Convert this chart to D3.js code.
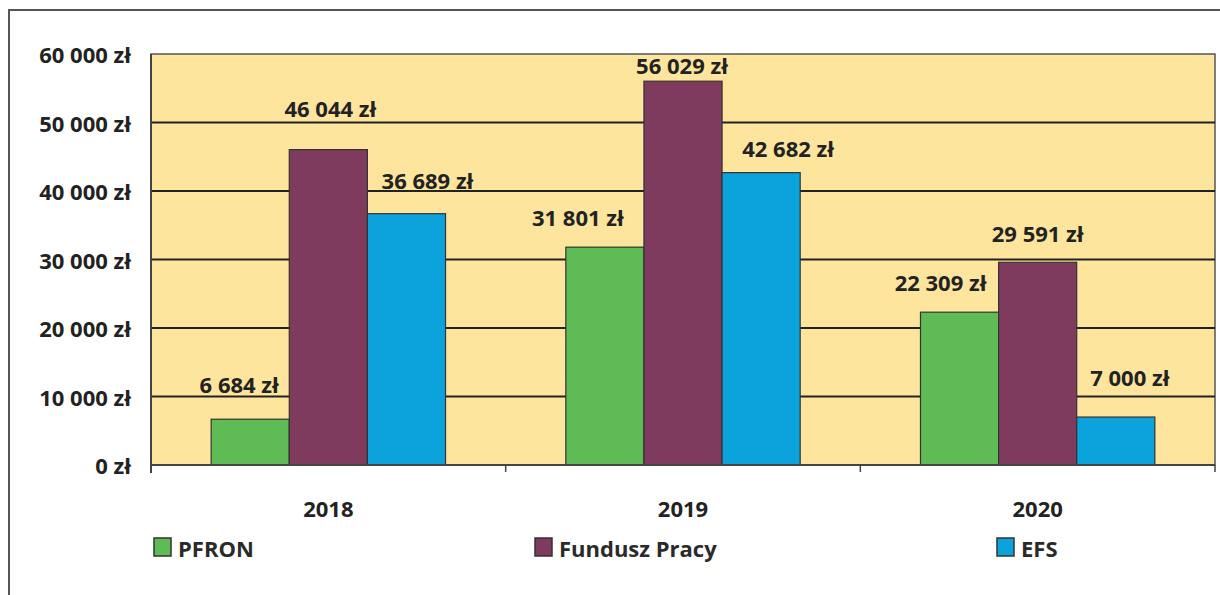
<!DOCTYPE html>
<html>
<head>
<meta charset="utf-8">
<script src="https://cdn.jsdelivr.net/npm/d3@7"></script>
<style>
    body{margin:0;background:#fff;}
    svg text{font-family:"Open Sans",sans-serif;font-weight:700;}
</style>
</head>
<body>
<script>
// data
const years = ['2018', '2019', '2020'];
const series = ['PFRON', 'Fundusz Pracy', 'EFS'];
const pfron = [6684, 31801, 22309];
const funduszPracy = [46044, 56029, 29591];
const efs = [36689, 42682, 7000];
const yTicks = [0, 10000, 20000, 30000, 40000, 50000, 60000];

// layout tweaks: label nudges [dx, dy] like in the original chart
const labelNudge = [
    [[-11,-35],[2,-42],[21,-34]],
    [[-27,-30],[-1,-16],[27,-25]],
    [[-19,-30],[0,-29],[14,-40]]
];

const colors = {'PFRON':'#5fbb55', 'Fundusz Pracy':'#7e3b5d', 'EFS':'#0ca2dc'};
const width = 1220, height = 595;
const plot = {left:151, right:1215, top:54, bottom:465};
const fontSize = 22;

const values = {'PFRON':pfron, 'Fundusz Pracy':funduszPracy, 'EFS':efs};
const fmt = v => d3.format(',')(v).replace(/,/g, ' ') + ' zł';

const svg = d3.select('body').append('svg')
    .attr('width', width).attr('height', height);

// outer frame
svg.append('rect')
    .attr('x', 9).attr('y', 10)
    .attr('width', 1240).attr('height', 620)
    .attr('fill', 'none').attr('stroke', '#555').attr('stroke-width', 2);

let x0 = d3.scaleBand().domain(years).range([plot.left, plot.right]);
let x1 = d3.scaleBand().domain(series).range([0, x0.bandwidth()]).paddingOuter(0.77);
let y = d3.scaleLinear().domain([0, 60000]).range([plot.bottom, plot.top]);

// plot background
svg.append('rect')
    .attr('x', plot.left).attr('y', plot.top)
    .attr('width', plot.right - plot.left).attr('height', plot.bottom - plot.top)
    .attr('fill', '#fee59e').attr('stroke', '#555').attr('stroke-width', 1.5);

// gridlines
svg.append('g').selectAll('line')
    .data(yTicks.filter(t => t > 0 && t < 60000))
    .join('line')
    .attr('x1', plot.left).attr('x2', plot.right)
    .attr('y1', d => y(d)).attr('y2', d => y(d))
    .attr('stroke', '#222').attr('stroke-width', 2);

// y labels
svg.append('g').selectAll('text')
    .data(yTicks)
    .join('text')
    .attr('x', 131).attr('y', d => y(d))
    .attr('text-anchor', 'end').attr('dominant-baseline', 'central')
    .attr('font-size', fontSize).attr('fill', '#222')
    .text(fmt);

// bars
const groups = svg.append('g').selectAll('g')
    .data(years.map((yr, i) => ({yr, i})))
    .join('g')
    .attr('transform', d => `translate(${x0(d.yr)},0)`);

groups.selectAll('rect')
    .data(d => series.map((s, j) => ({s, j, i:d.i, v:values[s][d.i]})))
    .join('rect')
    .attr('x', d => x1(d.s)).attr('width', x1.bandwidth())
    .attr('y', d => y(d.v)).attr('height', d => y(0) - y(d.v))
    .attr('fill', d => colors[d.s])
    .attr('stroke', '#333').attr('stroke-width', 1.2);

groups.selectAll('text')
    .data(d => series.map((s, j) => ({s, j, i:d.i, v:values[s][d.i]})))
    .join('text')
    .attr('x', d => x1(d.s) + x1.bandwidth()/2 + labelNudge[d.i][d.j][0])
    .attr('y', d => y(d.v) + labelNudge[d.i][d.j][1])
    .attr('text-anchor', 'middle').attr('dominant-baseline', 'central')
    .attr('font-size', fontSize).attr('fill', '#222')
    .text(d => fmt(d.v));

// x axis line + ticks
svg.append('line')
    .attr('x1', plot.left).attr('x2', plot.right)
    .attr('y1', plot.bottom).attr('y2', plot.bottom)
    .attr('stroke', '#444').attr('stroke-width', 2);
svg.append('line')
    .attr('x1', plot.left).attr('x2', plot.left)
    .attr('y1', plot.top).attr('y2', plot.bottom + 8)
    .attr('stroke', '#444').attr('stroke-width', 2);
svg.append('g').selectAll('line')
    .data(years.map(yr => x0(yr) + x0.bandwidth()).concat([plot.left]))
    .join('line')
    .attr('x1', d => d).attr('x2', d => d)
    .attr('y1', plot.bottom).attr('y2', plot.bottom + 7)
    .attr('stroke', '#444').attr('stroke-width', 1.5);

svg.append('g').selectAll('text')
    .data(years)
    .join('text')
    .attr('x', d => x0(d) + x0.bandwidth()/2).attr('y', 508)
    .attr('text-anchor', 'middle').attr('dominant-baseline', 'central')
    .attr('font-size', fontSize).attr('fill', '#222')
    .text(d => d);

// legend
const legendX = [154, 535, 997];
const legend = svg.append('g').selectAll('g')
    .data(series)
    .join('g')
    .attr('transform', (d, i) => `translate(${legendX[i]},538)`);
legend.append('rect')
    .attr('width', 17).attr('height', 18)
    .attr('fill', d => colors[d]).attr('stroke', '#333').attr('stroke-width', 1.5);
legend.append('text')
    .attr('x', 24).attr('y', 10)
    .attr('dominant-baseline', 'central')
    .attr('font-size', fontSize).attr('fill', '#2a2a2a')
    .text(d => d);
</script>
</body>
</html>
